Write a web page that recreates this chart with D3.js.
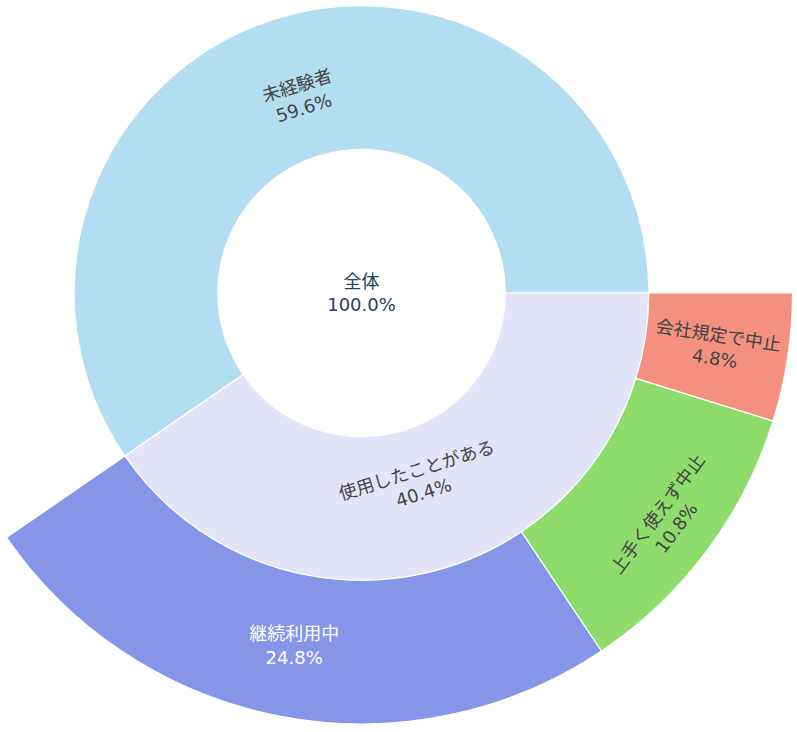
<!DOCTYPE html>
<html>
<head>
<meta charset="utf-8">
<script src="https://cdn.jsdelivr.net/npm/d3@7"></script>
<style>
  html, body { margin: 0; padding: 0; background: #fff; }
  svg { display: block; }
</style>
</head>
<body>
<svg id="chart"></svg>
<script>
// sunburst nodes (leaf values sum up to the root)
const labels  = ["全体", "未経験者", "使用したことがある", "継続利用中", "上手く使えず中止", "会社規定で中止"];
const parents = ["", "全体", "全体", "使用したことがある", "使用したことがある", "使用したことがある"];
const values  = [0, 59.6, 0, 24.8, 10.8, 4.8];
const colors  = ["#ffffff", "#b3ddf0", "#e4e4f8", "#8596e8", "#8edc6b", "#f4907f"];

const width = 797, height = 732;
const cx = 361.5, cy = 293;
const outerR = 431;

const svg = d3.select("#chart")
    .attr("width", width)
    .attr("height", height);

const rows = labels.map((l, i) => ({ id: l, parent: parents[i] || null, value: values[i], color: colors[i] }));

const root = d3.stratify()
    .id(d => d.id)
    .parentId(d => d.parent)(rows)
    .sum(d => d.value)
    .sort((a, b) => b.value - a.value);

// x = angle (counter-clockwise from 3 o'clock), y = depth band
d3.partition().size([2 * Math.PI, root.height + 1])(root);

const rScale = d3.scaleLinear().domain([0, root.height + 1]).range([0, outerR]);

const g = svg.append("g").attr("transform", `translate(${cx},${cy})`);

// d3.arc measures clockwise from 12 o'clock, so flip the math angles
const arc = d3.arc()
    .startAngle(d => Math.PI / 2 - d.x1)
    .endAngle(d => Math.PI / 2 - d.x0)
    .innerRadius(d => rScale(d.y0))
    .outerRadius(d => rScale(d.y1));

const nodes = root.descendants();

g.selectAll("path.slice")
    .data(nodes)
    .enter().append("path")
    .attr("class", "slice")
    .attr("d", d => d.depth === 0
        ? d3.arc()({ innerRadius: 0, outerRadius: rScale(1), startAngle: 0, endAngle: 2 * Math.PI })
        : arc(d))
    .attr("fill", d => d.data.color)
    .attr("stroke", "#fff")
    .attr("stroke-width", 1.2);

// text orientation, chosen like plotly's "auto"
const orient = {
    "未経験者": "tangential",
    "使用したことがある": "tangential",
    "継続利用中": "horizontal",
    "上手く使えず中止": "tangential",
    "会社規定で中止": "radial"
};
// small radial shift of the label inside its ring
const nudge = { "未経験者": -10, "使用したことがある": -18, "上手く使えず中止": 22 };

const norm = a => {
    while (a > 90) a -= 180;
    while (a <= -90) a += 180;
    return a;
};

const textColor = c => {
    const rgb = d3.rgb(c);
    const b = (rgb.r * 299 + rgb.g * 587 + rgb.b * 114) / 1000;
    return b < 165 ? "#fff" : "#444";
};

const total = root.value;

const labelsG = g.selectAll("g.lbl")
    .data(nodes)
    .enter().append("g")
    .attr("class", "lbl")
    .attr("transform", d => {
        if (d.depth === 0) return "translate(0,0)";
        const mid = (d.x0 + d.x1) / 2;
        const r = (rScale(d.y0) + rScale(d.y1)) / 2 + (nudge[d.data.id] || 0);
        const x = r * Math.cos(mid), y = -r * Math.sin(mid);
        const deg = mid * 180 / Math.PI;
        let rot = 0;
        const o = orient[d.data.id];
        if (o === "tangential") rot = norm(90 - deg);
        else if (o === "radial") rot = norm(-deg);
        return `translate(${x},${y}) rotate(${rot})`;
    });

const txt = labelsG.append("text")
    .attr("text-anchor", "middle")
    .attr("font-family", "'DejaVu Sans', 'Noto Sans CJK JP', sans-serif")
    .attr("font-size", "18px")
    .attr("fill", d => d.depth === 0 ? "#2a3f5f" : textColor(d.data.color));

txt.append("tspan")
    .attr("x", 0)
    .attr("y", "-0.3em")
    .text(d => d.data.id);

txt.append("tspan")
    .attr("x", 0)
    .attr("y", "1.0em")
    .text(d => d3.format(".1%")(d.value / total));
</script>
</body>
</html>
